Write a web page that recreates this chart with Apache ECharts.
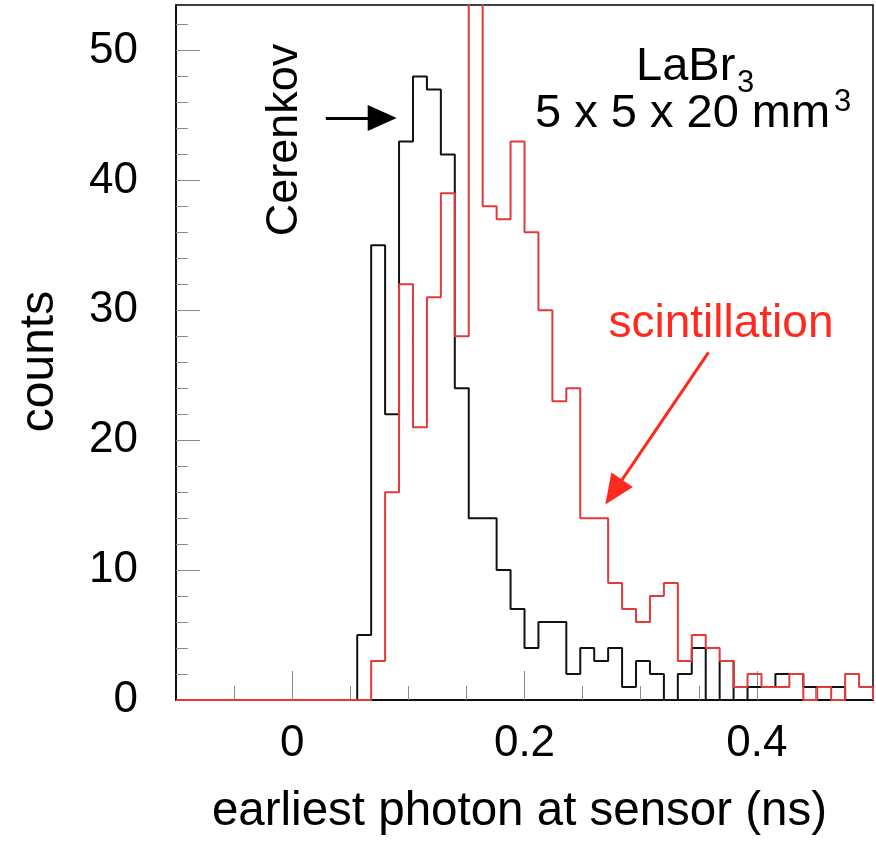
<!DOCTYPE html>
<html><head><meta charset="utf-8">
<script src="https://cdn.jsdelivr.net/npm/echarts@6/dist/echarts.min.js"></script>
<style>html,body{margin:0;padding:0;background:#fff}#c{width:876px;height:841px}</style>
</head><body><div id="c"></div>
<script>
// histogram binning (ns)
const binStart = -0.1;
const binWidth = 0.012;
// Cerenkov (black) counts per bin
const cerenkovCounts = [0,0,0,0,0,0,0,0,0,0,0,0,0,5,35,22,43,48,47,42,24,14,14,10,7,4,6,6,2,4,3,4,1,3,2,0,2,4,0,3,0,1,1,2,2,1,1,1,0,0];
// scintillation (red) counts per bin (bin 21 runs off the top of the frame)
const scintCounts = [0,0,0,0,0,0,0,0,0,0,0,0,0,0,3,16,32,21,31,39,28,60,38,37,43,36,30,23,24,14,14,9,7,6,8,9,3,5,4,3,1,2,1,1,2,0,1,0,2,1];
// tick labels / tick positions
const xMajorTicks = [0, 0.2, 0.4];
const xMinorTicks = [-0.05, 0.05, 0.1, 0.15, 0.25, 0.3, 0.35, 0.45];
const yMajorTicks = [0, 10, 20, 30, 40, 50];
const yMinorTicks = [2,4,6,8,12,14,16,18,22,24,26,28,32,34,36,38,42,44,46,48,52];
// annotation arrows in data coordinates
const cerenkovArrow = [[0.029, 44.8], [0.0775, 44.8]];
const scintArrow = [[0.3584, 26.76], [0.2768, 16.0]];

const FONT = '"Liberation Sans", Arial, Helvetica, sans-serif';

function outline(counts) {
  const pts = [[binStart, 0]];
  for (let k = 0; k < counts.length; k++) {
    pts.push([+(binStart + k * binWidth).toFixed(4), counts[k]]);
  }
  const end = +(binStart + counts.length * binWidth).toFixed(4);
  pts.push([end, counts[counts.length - 1]]);
  pts.push([end, 0]);
  return pts;
}

const chart = echarts.init(document.getElementById('c'), null, {renderer: 'canvas'});
const tickStyle = {color: '#8a8a8a', width: 1};
chart.setOption({
  animation: false,
  backgroundColor: '#fff',
  grid: {left: 176, right: 3, top: 5, bottom: 138, show: true, borderColor: '#000', borderWidth: 1.5, backgroundColor: 'transparent'},
  xAxis: [{
    type: 'value', min: -0.1, max: 0.5, position: 'bottom',
    axisLine: {show: true, onZero: false, lineStyle: {color: '#000', width: 1.5}},
    axisTick: {show: true, inside: true, length: 29, customValues: xMajorTicks, lineStyle: tickStyle},
    axisLabel: {show: true, customValues: xMajorTicks, margin: 22, fontFamily: FONT, fontSize: 44, color: '#000',
      formatter: v => (Math.abs(v) < 1e-9 ? '0' : String(+v.toFixed(2)))},
    splitLine: {show: false},
    name: 'earliest photon at sensor (ns)', nameLocation: 'middle', nameGap: 88,
    nameTextStyle: {fontFamily: FONT, fontSize: 47.5, color: '#000', padding: [0, 10, 0, 0]}
  }, {
    type: 'value', min: -0.1, max: 0.5, position: 'bottom',
    axisLine: {show: false, onZero: false},
    axisTick: {show: true, inside: true, length: 14, customValues: xMinorTicks, lineStyle: tickStyle},
    axisLabel: {show: false}, splitLine: {show: false}
  }],
  yAxis: [{
    type: 'value', min: 0, max: 53.5, position: 'left',
    axisLine: {show: true, onZero: false, lineStyle: {color: '#000', width: 1.5}},
    axisTick: {show: true, inside: true, length: 24, customValues: yMajorTicks, lineStyle: tickStyle},
    axisLabel: {show: true, customValues: yMajorTicks, margin: 38, fontFamily: FONT, fontSize: 44, color: '#000'},
    splitLine: {show: false},
    name: 'counts', nameLocation: 'middle', nameGap: 112,
    nameTextStyle: {fontFamily: FONT, fontSize: 48, color: '#000', padding: [0, 18, 0, 0]}
  }, {
    type: 'value', min: 0, max: 53.5, position: 'left',
    axisLine: {show: false, onZero: false},
    axisTick: {show: true, inside: true, length: 12, customValues: yMinorTicks, lineStyle: tickStyle},
    axisLabel: {show: false}, splitLine: {show: false}
  }],
  series: [{
    name: 'Cerenkov', type: 'line', step: 'end', xAxisIndex: 0, yAxisIndex: 0,
    data: outline(cerenkovCounts), showSymbol: false, clip: true, z: 3,
    lineStyle: {color: '#111', width: 2},
    markLine: {
      silent: true, symbol: ['none', 'triangle'], symbolSize: [26, 29],
      lineStyle: {color: '#000', width: 3, type: 'solid'}, label: {show: false},
      itemStyle: {color: '#000'},
      data: [[{coord: cerenkovArrow[0]}, {coord: cerenkovArrow[1]}]]
    }
  }, {
    name: 'scintillation', type: 'line', step: 'end', xAxisIndex: 0, yAxisIndex: 0,
    data: outline(scintCounts), showSymbol: false, clip: true, z: 4,
    lineStyle: {color: '#e23a3a', width: 2},
    markLine: {
      silent: true, symbol: ['none', 'triangle'], symbolSize: [26, 30],
      lineStyle: {color: '#ff2a1f', width: 3, type: 'solid'}, label: {show: false},
      itemStyle: {color: '#ff2a1f'},
      data: [[{coord: scintArrow[0]}, {coord: scintArrow[1]}]]
    }
  }],
  graphic: [
    {type: 'text', left: 636, top: 44, style: {text: 'LaBr', font: '47px ' + FONT, fill: '#000'}},
    {type: 'text', left: 737, top: 68, style: {text: '3', font: '31px ' + FONT, fill: '#000'}},
    {type: 'text', left: 535, top: 91, style: {text: '5 x 5 x 20 mm', font: '47px ' + FONT, fill: '#000'}},
    {type: 'text', left: 834, top: 87, style: {text: '3', font: '31px ' + FONT, fill: '#000'}},
    {type: 'text', x: 285, y: 140, rotation: Math.PI / 2,
      style: {text: 'Cerenkov', font: '45px ' + FONT, fill: '#000', align: 'center', verticalAlign: 'middle'}},
    {type: 'text', x: 721, y: 324,
      style: {text: 'scintillation', font: '46px ' + FONT, fill: '#ff2a1f', align: 'center', verticalAlign: 'middle'}}
  ]
});
</script>
</body></html>
